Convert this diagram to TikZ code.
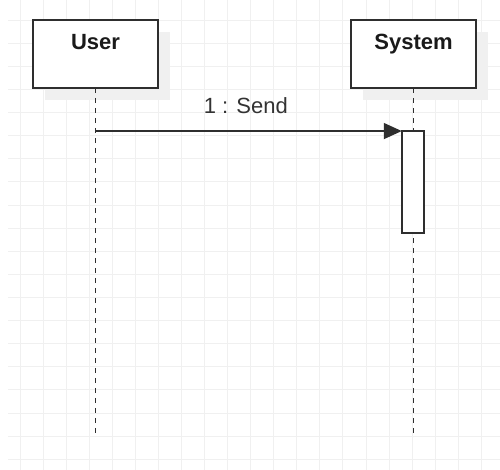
\documentclass[tikz,border=0pt]{standalone}
\usepackage{fontspec}
\setmainfont{Liberation Sans}
\usetikzlibrary{arrows.meta,shadows}
\definecolor{gridc}{HTML}{F0F0F0}
\definecolor{linec}{HTML}{2E2E2E}
\definecolor{shadowc}{HTML}{F0F0F0}
\definecolor{textc}{HTML}{1A1A1A}
\definecolor{labelc}{HTML}{333333}
\begin{document}
\begin{tikzpicture}[x=1pt,y=-1pt,
  gridline/.style={draw=gridc, line width=1pt},
  lifebox/.style={draw=linec, line width=1.7pt, fill=white,
    minimum width=125pt, minimum height=68pt, inner sep=0pt, outer sep=0pt,
    drop shadow={shadow xshift=11.5pt, shadow yshift=-11.5pt, fill=shadowc, opacity=1}},
  titletext/.style={font=\fontsize{22}{26}\selectfont\bfseries, text=textc, anchor=base, inner sep=0pt},
  lifeline/.style={draw=linec, line width=1.8pt, dash pattern=on 5pt off 5pt},
  actbox/.style={draw=linec, line width=1.7pt, fill=white,
    minimum width=22.3pt, minimum height=102.3pt, inner sep=0pt, outer sep=0pt},
  msg/.style={draw=linec, line width=1.7pt, -{Triangle[length=18pt,width=16pt]}},
  msglabel/.style={font=\fontsize{22}{26}\selectfont, text=labelc, anchor=base, inner sep=0pt}
]
\useasboundingbox[fill=white] (0,0) rectangle (500,470);
% grid
\foreach \i in {0,...,19} \draw[gridline] (8,{20.3+23.1*\i}) -- (500,{20.3+23.1*\i});
\foreach \i in {0,...,20} \draw[gridline] ({20+23.07*\i},0) -- ({20+23.07*\i},470);
% lifeline heads
\node[lifebox] (user) at (95.5,54.3) {};
\node[lifebox] (system) at (413.5,54.3) {};
\node[titletext] (usertitle) at (95.5,49.3) {User};
\node[titletext] (systemtitle) at (413.5,49.3) {System};
% lifelines
\coordinate (userend) at (95.5,435);
\coordinate (systemend) at (413.5,435);
\draw[lifeline] (user.south) -- (userend);
\draw[lifeline] (system.south) -- (systemend);
% activation
\node[actbox] (act) at (412.9,182.2) {};
% message
\draw[msg] (user.south |- act.north) -- (act.north west);
\node[msglabel] (sendlabel) at (245.8,113.3) {1 : Send};
\end{tikzpicture}
\end{document}
